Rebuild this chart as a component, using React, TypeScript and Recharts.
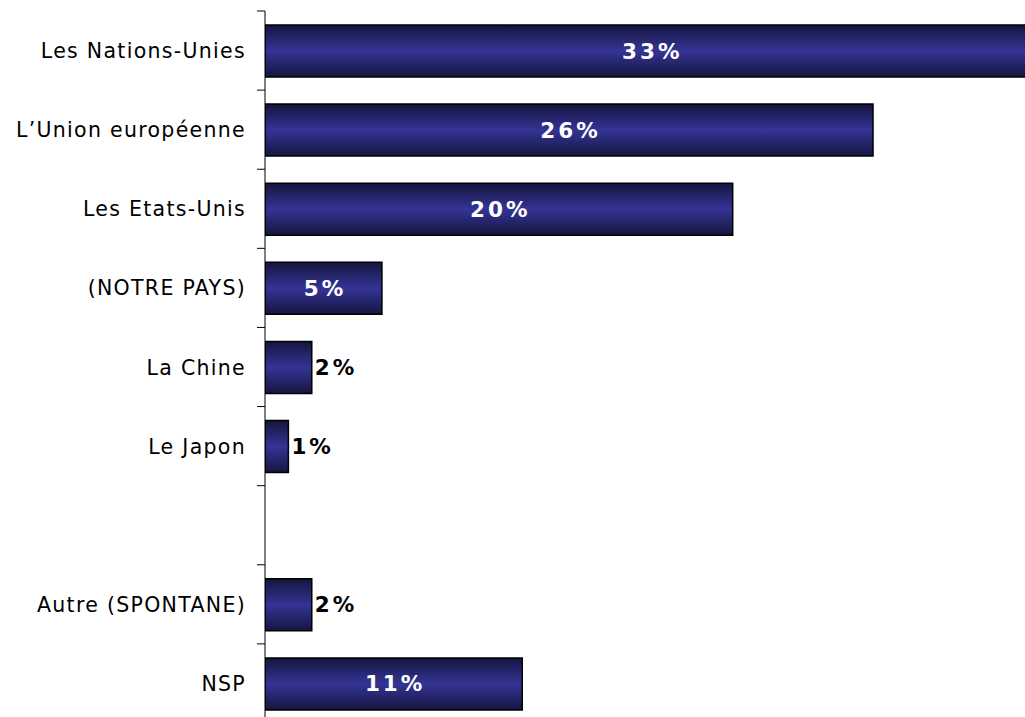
import { BarChart, Bar, XAxis, YAxis, LabelList } from "recharts";

const categories = [
  "Les Nations-Unies",
  "L\u2019Union européenne",
  "Les Etats-Unis",
  "(NOTRE PAYS)",
  "La Chine",
  "Le Japon",
  "",
  "Autre (SPONTANE)",
  "NSP",
];
const shares = [33, 26, 20, 5, 2, 1, null, 2, 11];

const data = categories.map((name, i) => ({ key: `c${i}`, name, value: shares[i] }));

const FONT = "'DejaVu Sans', Verdana, sans-serif";

function CategoryTick(props: any) {
  const { x, y, payload, index, visibleTicksCount } = props;
  const half = payload?.offset ?? 39;
  const label = data.find((d) => d.key === payload.value)?.name ?? "";
  const isLast = index === visibleTicksCount - 1;
  return (
    <g>
      <line x1={x - 8} x2={x} y1={y - half} y2={y - half} stroke="#000" strokeWidth={1} />
      {isLast && <line x1={x - 8} x2={x} y1={y + half} y2={y + half} stroke="#000" strokeWidth={1} />}
      <text
        x={x - 19}
        y={y}
        dy={7.5}
        textAnchor="end"
        fontSize={20.5}
        letterSpacing={1.3}
        fontFamily={FONT}
        fill="#000"
      >
        {label}
      </text>
    </g>
  );
}

function ValueLabel(props: any) {
  const { x, y, width, height, value } = props;
  if (value == null) return null;
  const inside = value >= 5;
  return (
    <text
      x={inside ? x + width / 2 + 1.5 : x + width + 3}
      y={y + height / 2}
      dy={7.5}
      textAnchor={inside ? "middle" : "start"}
      fontSize={21.5}
      fontWeight="bold"
      letterSpacing={3}
      fontFamily={FONT}
      fill={inside ? "#fff" : "#000"}
    >
      {`${value}%`}
    </text>
  );
}

export default function App() {
  return (
    <div style={{ position: "absolute", left: 0, top: 0, background: "#fff" }}>
      <BarChart
        width={1025}
        height={717}
        data={data}
        layout="vertical"
        margin={{ top: 11, right: 0, bottom: -6, left: 0 }}
        barSize={52}
      >
        <defs>
          <linearGradient id="barFill" x1="0" y1="0" x2="0" y2="1">
            <stop offset="0%" stopColor="#15153f" />
            <stop offset="50%" stopColor="#343496" />
            <stop offset="100%" stopColor="#15153f" />
          </linearGradient>
        </defs>
        <XAxis type="number" domain={[0, 32.5]} allowDataOverflow hide />
        <YAxis
          type="category"
          dataKey="key"
          width={265}
          axisLine={{ stroke: "#000", strokeWidth: 1 }}
          tickLine={false}
          tickSize={0}
          tickMargin={0}
          tick={<CategoryTick />}
          interval={0}
        />
        <Bar dataKey="value" fill="url(#barFill)" stroke="#000" strokeWidth={1.5} isAnimationActive={false}>
          <LabelList dataKey="value" content={<ValueLabel />} />
        </Bar>
      </BarChart>
    </div>
  );
}
